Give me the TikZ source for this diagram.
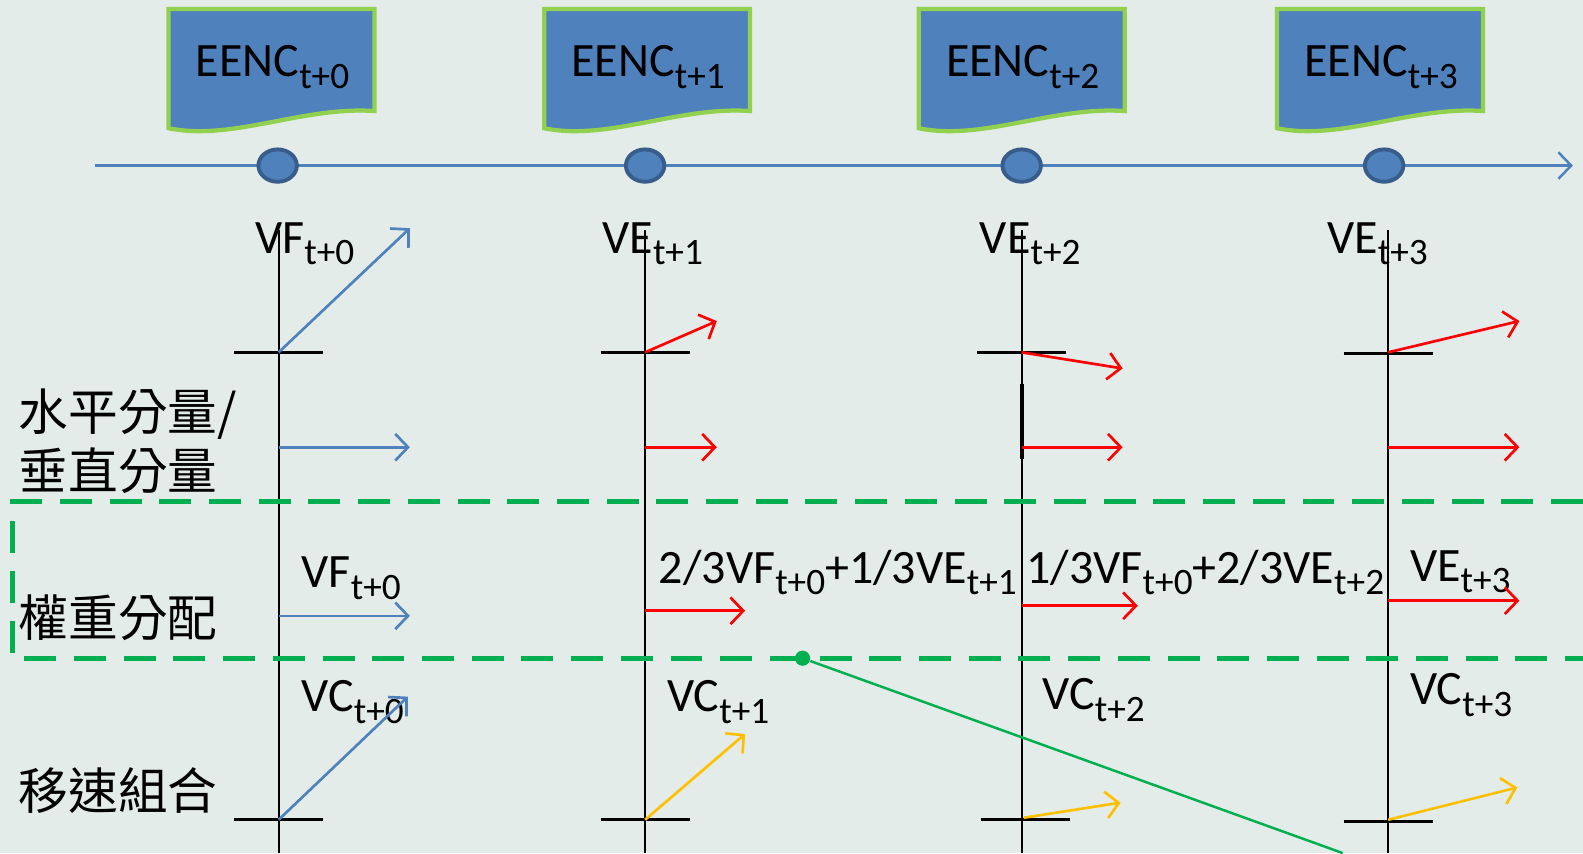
\documentclass[tikz,border=0pt]{standalone}
\usepackage{fontspec}
\setmainfont{Carlito}
\newfontfamily\cjk{Noto Sans CJK TC}
\usetikzlibrary{arrows.meta,shapes.geometric}

\definecolor{bgcol}{RGB}{227,236,233}
\definecolor{docblue}{RGB}{79,129,189}
\definecolor{darkblue}{RGB}{56,93,138}
\definecolor{docgreen}{RGB}{146,208,80}
\definecolor{dashgreen}{RGB}{0,176,80}
\definecolor{vecyellow}{RGB}{255,192,0}
\definecolor{vecred}{RGB}{255,0,0}

\newcommand\lo[1]{\raisebox{-0.5ex}{\fontsize{10.5}{11}\selectfont #1}}

\tikzset{
    eenc/.style={fill=docblue, draw=docgreen, line width=1.2pt},
    timept/.style={ellipse, draw=darkblue, fill=docblue, line width=1.1pt,
        minimum width=0.38cm, minimum height=0.32cm, inner sep=0pt},
    vec/.style={line width=0.75pt, -{Straight Barb[length=3.6pt,width=7.5pt]}},
    axis/.style={line width=0.6pt},
    cross/.style={line width=0.8pt},
    lbl/.style={anchor=base west, inner sep=0pt, font=\fontsize{13.5}{16}\selectfont},
    row/.style={anchor=west, inner sep=0pt, align=left, font=\cjk\fontsize{14}{16.5}\selectfont}
}

\begin{document}
\begin{tikzpicture}[x=0.01cm, y=-0.01cm]
    \useasboundingbox (0,0) rectangle (1568,845);
    \fill[bgcol] (0,0) rectangle (1568,845);

    % time line
    \coordinate (tl0) at (94,164);
    \coordinate (tl1) at (1558,164);
    \draw[docblue, line width=0.7pt, -{Straight Barb[length=3.6pt,width=7.5pt]}] (tl0) -- (tl1);
    \foreach \cx/\n in {275/0, 639/1, 1012/2, 1371/3}
        \node[timept] (s\n) at (\cx,164) {};

    % EENC documents
    \foreach \x/\n in {167/0, 539/1, 910/2, 1265/3} {
        \draw[eenc] (\x,9) -- (\x+204,9) -- (\x+204,110)
            .. controls (\x+133,105) and (\x+63,140) .. (\x,127) -- cycle;
        \node[anchor=base, inner sep=0pt, font=\fontsize{13.5}{16}\selectfont]
            (e\n) at (\x+103,76) {EENC\lo{t+\n}};
    }

    % axes
    \foreach \ax in {276, 639, 1012, 1375}
        \draw[axis] (\ax,228) -- (\ax,845);
    \draw[line width=1.2pt] (1012,380) -- (1012,455);
    \foreach \ax/\y in {276/349, 639/349, 1012/349, 1375/350}
        \draw[cross] (\ax-44,\y) -- (\ax+44,\y);
    \foreach \ax/\y in {276/812, 639/812, 1016/812, 1375/814}
        \draw[cross] (\ax-44,\y) -- (\ax+44,\y);

    % left labels
    \node[row] (lblA) at (18,437) {水平分量/\\垂直分量};
    \node[row] (lblB) at (18,612) {權重分配};
    \node[row] (lblC) at (18,783) {移速組合};

    % green band
    \draw[dashgreen, line width=1.4pt, dash pattern=on 9pt off 5pt]
        (1568,497) -- (12,497) -- (12,652) -- (1568,652);
    \node[circle, fill=dashgreen, inner sep=0pt, minimum size=0.15cm] (pin) at (795,652) {};
    \coordinate (pinend) at (1330,845);
    \draw[dashgreen, line width=0.7pt] (pin) -- (pinend);

    % VF / VE
    \node[lbl] (vf0) at (252,251) {VF\lo{t+0}};
    \node[lbl] (ve1) at (596,251) {VE\lo{t+1}};
    \node[lbl] (ve2) at (970,251) {VE\lo{t+2}};
    \node[lbl] (ve3) at (1314,251) {VE\lo{t+3}};
    \coordinate (a0) at (276,349); \coordinate (a0e) at (406,226);
    \coordinate (a1) at (639,349); \coordinate (a1e) at (710,318);
    \coordinate (a2) at (1012,349); \coordinate (a2e) at (1112,365);
    \coordinate (a3) at (1375,349); \coordinate (a3e) at (1505,318);
    \draw[vec, docblue] (a0) -- (a0e);
    \draw[vec, vecred] (a1) -- (a1e);
    \draw[vec, vecred] (a2) -- (a2e);
    \draw[vec, vecred] (a3) -- (a3e);

    % horizontal components
    \coordinate (b0) at (276,443); \coordinate (b0e) at (406,443);
    \coordinate (b1) at (639,443); \coordinate (b1e) at (710,443);
    \coordinate (b2) at (1012,443); \coordinate (b2e) at (1112,443);
    \coordinate (b3) at (1375,443); \coordinate (b3e) at (1505,443);
    \draw[vec, docblue] (b0) -- (b0e);
    \draw[vec, vecred] (b1) -- (b1e);
    \draw[vec, vecred] (b2) -- (b2e);
    \draw[vec, vecred] (b3) -- (b3e);

    % weighting
    \node[lbl] (w0) at (298,582) {VF\lo{t+0}};
    \node[lbl] (w1) at (652,578) {2/3VF\lo{t+0}+1/3VE\lo{t+1}};
    \node[lbl] (w2) at (1016,578) {1/3VF\lo{t+0}+2/3VE\lo{t+2}};
    \node[lbl] (w3) at (1396,576) {VE\lo{t+3}};
    \coordinate (c0) at (276,610); \coordinate (c0e) at (406,610);
    \coordinate (c1) at (639,605); \coordinate (c1e) at (738,605);
    \coordinate (c2) at (1012,600); \coordinate (c2e) at (1127,600);
    \coordinate (c3) at (1375,595); \coordinate (c3e) at (1505,595);
    \draw[vec, docblue] (c0) -- (c0e);
    \draw[vec, vecred] (c1) -- (c1e);
    \draw[vec, vecred] (c2) -- (c2e);
    \draw[vec, vecred] (c3) -- (c3e);

    % VC
    \node[lbl] (vc0) at (298,705) {VC\lo{t+0}};
    \node[lbl] (vc1) at (660,705) {VC\lo{t+1}};
    \node[lbl] (vc2) at (1032,703) {VC\lo{t+2}};
    \node[lbl] (vc3) at (1396,698) {VC\lo{t+3}};
    \coordinate (d0) at (276,812); \coordinate (d0e) at (404,690);
    \coordinate (d1) at (639,812); \coordinate (d1e) at (738,727);
    \coordinate (d2) at (1014,810); \coordinate (d2e) at (1110,795);
    \coordinate (d3) at (1375,812); \coordinate (d3e) at (1503,780);
    \draw[vec, docblue] (d0) -- (d0e);
    \draw[vec, vecyellow] (d1) -- (d1e);
    \draw[vec, vecyellow] (d2) -- (d2e);
    \draw[vec, vecyellow] (d3) -- (d3e);
\end{tikzpicture}
\end{document}
